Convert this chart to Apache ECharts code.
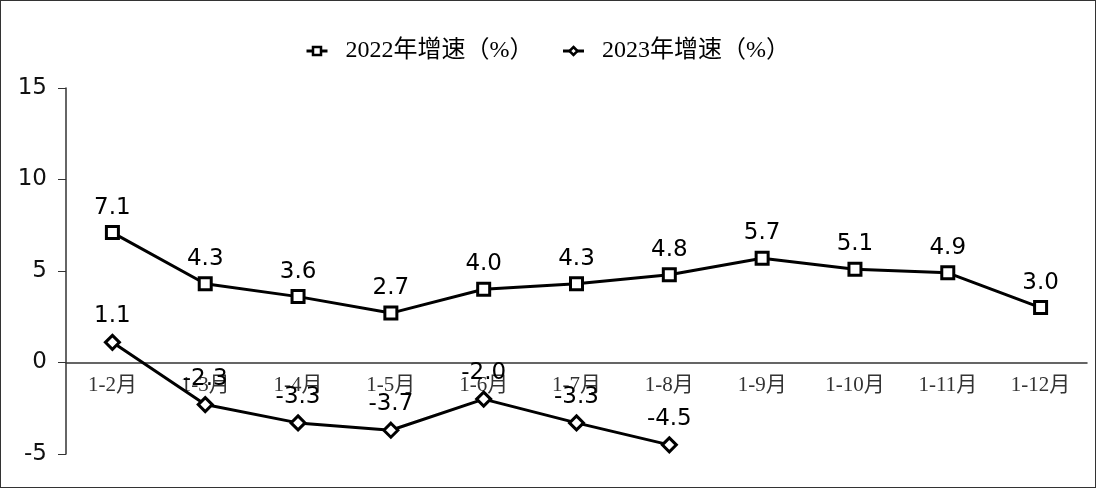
<!DOCTYPE html>
<html>
<head>
<meta charset="utf-8">
<script src="https://cdn.jsdelivr.net/npm/echarts@6/dist/echarts.min.js"></script>
<style>
html,body{margin:0;padding:0;background:#fff;}
#wrap{width:1096px;height:488px;box-sizing:border-box;border:1.5px solid #333;position:relative;}
#chart{position:absolute;left:0;top:0;width:1096px;height:488px;}
</style>
</head>
<body>
<div id="wrap"><div id="chart"></div></div>
<script>
const categories = ['1-2月','1-3月','1-4月','1-5月','1-6月','1-7月','1-8月','1-9月','1-10月','1-11月','1-12月'];
const growth2022 = [7.1, 4.3, 3.6, 2.7, 4.0, 4.3, 4.8, 5.7, 5.1, 4.9, 3.0];
const growth2023 = [1.1, -2.3, -3.3, -3.7, -2.0, -3.3, -4.5];
const seriesNames = ['2022年增速（%）', '2023年增速（%）'];
const yMin = -5, yMax = 15, yStep = 5;

const chart = echarts.init(document.getElementById('chart'), null, {renderer: 'canvas'});
const serif = '"Liberation Serif","DejaVu Serif","Noto Sans CJK SC",serif';
const sans = '"DejaVu Sans",Verdana,sans-serif';
const labelStyle = {
  show: true, position: 'top', distance: 6,
  fontFamily: sans, fontSize: 23, color: '#000',
  formatter: p => p.value.toFixed(1)
};
const gridTop = 87, gridBottom = 35, H = 488;
const plotH = H - gridTop - gridBottom;
const zeroOffset = -plotH * (0 - yMin) / (yMax - yMin);

chart.setOption({
  animation: false,
  legend: {
    top: 33, left: 299, itemGap: 28, itemWidth: 21, itemHeight: 10,
    itemStyle: {borderWidth: 2.5},
    lineStyle: {width: 3, type: 'solid'},
    textStyle: {fontFamily: serif, fontSize: 24, color: '#000', padding: [0, 0, 0, 13]},
    data: seriesNames
  },
  grid: {left: 65, right: 10, top: gridTop, bottom: gridBottom, containLabel: false},
  xAxis: {
    type: 'category', data: categories, boundaryGap: true,
    offset: zeroOffset,
    axisLine: {onZero: false, lineStyle: {color: '#333', width: 1.5}},
    axisTick: {show: false},
    axisLabel: {fontFamily: serif, fontSize: 21, color: '#333', margin: 12, interval: 0}
  },
  yAxis: {
    type: 'value', min: yMin, max: yMax, interval: yStep,
    axisLine: {show: true, lineStyle: {color: '#333', width: 1.5}},
    axisTick: {show: true, length: 8, lineStyle: {color: '#333'}},
    splitLine: {show: false},
    axisLabel: {fontFamily: sans, fontSize: 23, color: '#111', margin: 19}
  },
  series: [
    {
      name: seriesNames[0], type: 'line', data: growth2022,
      symbol: 'rect', symbolSize: 12,
      itemStyle: {color: '#fff', borderColor: '#000', borderWidth: 3},
      lineStyle: {color: '#000', width: 3},
      label: labelStyle
    },
    {
      name: seriesNames[1], type: 'line', data: growth2023,
      symbol: 'diamond', symbolSize: 14,
      itemStyle: {color: '#fff', borderColor: '#000', borderWidth: 3},
      lineStyle: {color: '#000', width: 3},
      label: labelStyle
    }
  ]
});
</script>
</body>
</html>
